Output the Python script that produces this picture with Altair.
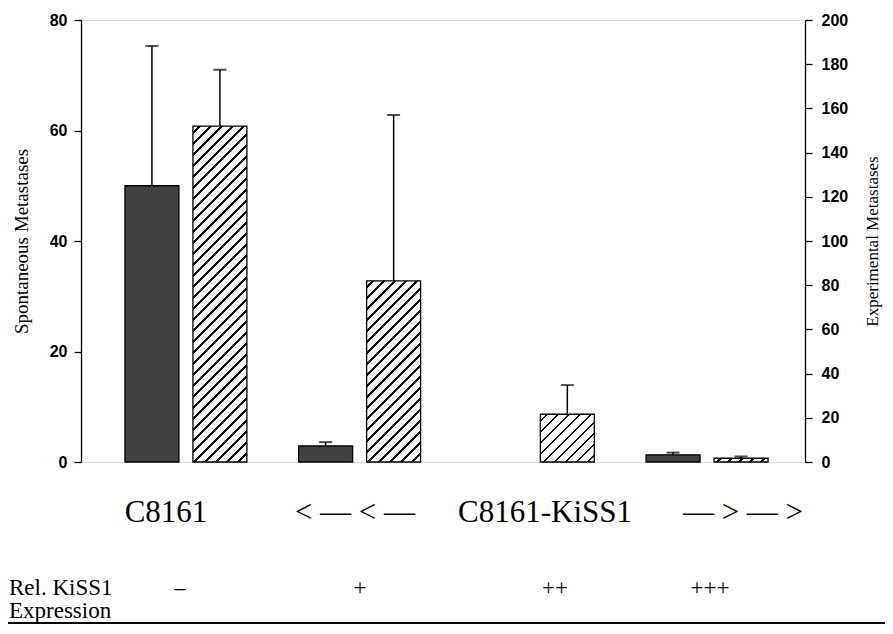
import altair as alt
import pandas as pd

# ---------------- data ----------------
groups = ["G1", "G2", "G3", "G4"]
spont_mean = [50.0, 2.9, 0.0, 1.3]     # left axis, dark bars
spont_err = [25.3, 0.7, 0.0, 0.4]
exper_mean = [152.0, 82.0, 21.6, 1.7]  # right axis, hatched bars
exper_err = [25.5, 75.0, 13.2, 0.8]

left_ticks = [0, 20, 40, 60, 80]
right_ticks = [0, 20, 40, 60, 80, 100, 120, 140, 160, 180, 200]
row1_labels = ["C8161", "< — < —", "C8161-KiSS1", "— > — >"]
expr_labels = ["–", "+", "++", "+++"]
expr_title = ["Rel. KiSS1", "Expression"]

# ---------------- layout / style ----------------
W, H = 724, 442
LEFT_MAX, RIGHT_MAX = 80, 200
X_PI, X_PO, X_ALIGN = 0.298, 0.233, 0.543
OFF_PI = 0.206
step = W / (len(groups) - X_PI + 2 * X_PO)
band = step * (1 - X_PI)
bar_w = band / (2 - OFF_PI) * (1 - OFF_PI)

serif = "Liberation Serif"
sans = "Liberation Sans"

df_s = pd.DataFrame({"group": groups, "series": "S", "mean": spont_mean, "err": spont_err})
df_s["top"] = df_s["mean"] + df_s["err"]
df_e = pd.DataFrame({"group": groups, "series": "E", "mean": exper_mean, "err": exper_err})
df_e["top"] = df_e["mean"] + df_e["err"]

x_enc = alt.X("group:N", scale=alt.Scale(domain=groups, paddingInner=X_PI,
                                          paddingOuter=X_PO, align=X_ALIGN), axis=None)
xo_enc = alt.XOffset("series:N", scale=alt.Scale(domain=["S", "E"], paddingInner=OFF_PI,
                                                  paddingOuter=0))

left_axis = alt.Axis(values=left_ticks, title="Spontaneous Metastases", grid=False,
                     titleFont=serif, titleFontSize=19, titleFontWeight="normal",
                     titleColor="black", titlePadding=18,
                     labelFont=sans, labelFontSize=16, labelFontWeight="bold",
                     labelColor="black", tickSize=7, labelPadding=7,
                     domainColor="black", tickColor="black", domainWidth=1.3, tickWidth=1.3)
right_axis = alt.Axis(orient="right", values=right_ticks, title="Experimental Metastases",
                      grid=False, titleFont=serif, titleFontSize=17, titleFontWeight="normal",
                      titleColor="black", titleAngle=270, titleBaseline="top", titlePadding=17,
                      labelFont=sans, labelFontSize=16, labelFontWeight="bold",
                      labelColor="black", tickSize=7, labelPadding=9,
                      domainColor="black", tickColor="black", domainWidth=1.3, tickWidth=1.3)

ys_scale = alt.Scale(domain=[0, LEFT_MAX], nice=False, zero=True)
ye_scale = alt.Scale(domain=[0, RIGHT_MAX], nice=False, zero=True)

# ---- dark (spontaneous) bars ----
base_s = alt.Chart(df_s)
dark_bars = base_s.transform_filter("datum.mean > 0").mark_bar(
    fill="#424242", stroke="black", strokeWidth=1.3
).encode(x=x_enc, xOffset=xo_enc,
         y=alt.Y("mean:Q", scale=ys_scale, axis=left_axis))
dark_rule = base_s.transform_filter("datum.err > 0").mark_rule(
    color="black", strokeWidth=1.5
).encode(x=x_enc, xOffset=xo_enc, y=alt.Y("top:Q", scale=ys_scale, axis=left_axis),
         y2="mean:Q")
dark_cap = base_s.transform_filter("datum.err > 0").mark_tick(
    color="black", size=13, thickness=2
).encode(x=x_enc, xOffset=xo_enc, y=alt.Y("top:Q", scale=ys_scale, axis=left_axis))
dark_layer = alt.layer(dark_bars, dark_rule, dark_cap)


# ---- hatched (experimental) bars: stripes via a hard-stop linear gradient ----
def hatch(w, h, period=11.0, line=2.6):
    h = max(h, 0.5)
    L = w + h
    stops = [alt.GradientStop(offset=0, color="white")]
    pos = period * 0.5
    while pos < L:
        a = pos / L
        b = min((pos + line) / L, 1.0)
        stops += [alt.GradientStop(offset=a, color="white"),
                  alt.GradientStop(offset=a, color="black"),
                  alt.GradientStop(offset=b, color="black"),
                  alt.GradientStop(offset=b, color="white")]
        pos += period
    stops.append(alt.GradientStop(offset=1, color="white"))
    d = w * w + h * h
    return alt.LinearGradient(gradient="linear", stops=stops,
                              x1=0, y1=0, x2=w * L / d, y2=h * L / d)


base_e = alt.Chart(df_e)
hatch_layers = []
for i, g in enumerate(groups):
    h_px = exper_mean[i] / RIGHT_MAX * H
    hatch_layers.append(
        base_e.transform_filter(alt.datum.group == g).mark_bar(
            fill=hatch(bar_w, h_px), stroke="black", strokeWidth=1.3
        ).encode(x=x_enc, xOffset=xo_enc,
                 y=alt.Y("mean:Q", scale=ye_scale, axis=right_axis))
    )
exp_rule = base_e.transform_filter("datum.err > 0").mark_rule(
    color="black", strokeWidth=1.5
).encode(x=x_enc, xOffset=xo_enc, y=alt.Y("top:Q", scale=ye_scale, axis=right_axis),
         y2="mean:Q")
exp_cap = base_e.transform_filter("datum.err > 0").mark_tick(
    color="black", size=13, thickness=2
).encode(x=x_enc, xOffset=xo_enc, y=alt.Y("top:Q", scale=ye_scale, axis=right_axis))
exp_layer = alt.layer(*hatch_layers, exp_rule, exp_cap)


# ---- annotation texts below the plot ----
def text_at(label, px, py, size, align="center"):
    return alt.Chart(pd.DataFrame({"t": [label]})).mark_text(
        font=serif, fontSize=size, color="black", align=align, baseline="alphabetic"
    ).encode(x=alt.value(px), y=alt.value(py), text="t:N")


row1_x = [85, 274, 464, 662]
row1_y = 502
expr_x = [99, 279, 474, 629]
texts = [text_at(t, x, row1_y, 31) for t, x in zip(row1_labels, row1_x)]
texts += [text_at(t, x, 575, 23) for t, x in zip(expr_labels, expr_x)]
texts.append(text_at(expr_title[0], -72, 575, 23, align="left"))
texts.append(text_at(expr_title[1], -72, 598, 23, align="left"))
underline = alt.Chart(pd.DataFrame({"k": [0]})).mark_rule(
    color="black", strokeWidth=2.2
).encode(x=alt.value(-73), x2=alt.value(804), y=alt.value(603))

chart = alt.layer(dark_layer, exp_layer, *texts, underline).resolve_scale(
    y="independent"
).properties(
    width=W, height=H,
    autosize=alt.AutoSizeParams(type="none"),
    padding={"left": 73, "top": 12, "right": 80, "bottom": 164},
).configure_view(stroke="black", strokeWidth=1.3).configure(background="white")

chart.save("out.html", embed_options={"renderer": "svg", "actions": False})
